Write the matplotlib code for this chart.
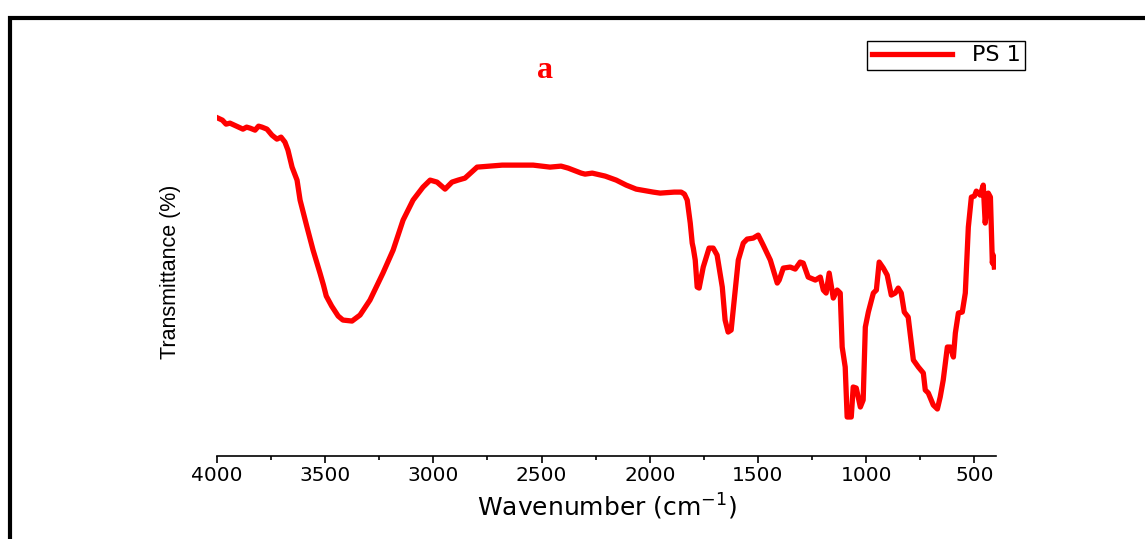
import matplotlib.pyplot as plt
from matplotlib.patches import Rectangle
from matplotlib.ticker import MultipleLocator

# FTIR spectrum of PS 1
wavenumber = [3995, 3975, 3958, 3940, 3910, 3880, 3863, 3847, 3824, 3808,
              3792, 3769, 3746, 3723, 3704,
              3686, 3672, 3653, 3630, 3616, 3584, 3556, 3524, 3508, 3495,
              3470, 3440, 3418, 3376, 3339, 3293, 3233, 3186, 3140, 3094, 3048,
              3015, 2983, 2946, 2914, 2886, 2854, 2798, 2743, 2682, 2585,
              2539, 2461, 2410, 2377, 2317, 2299, 2266, 2206, 2155, 2109,
              2063, 1984, 1952, 1887, 1855, 1840, 1827, 1813, 1804, 1799,
              1790, 1781, 1772, 1753, 1726, 1707, 1689, 1665, 1652, 1638,
              1624, 1610, 1591, 1568, 1550, 1522, 1499, 1476, 1443, 1411,
              1402, 1383, 1351, 1328, 1305, 1291, 1268, 1235, 1212, 1198,
              1185, 1171, 1152, 1134, 1120, 1111, 1097, 1088, 1069, 1060,
              1046, 1027, 1014, 1004, 990, 967, 953, 940, 921, 903,
              884, 866, 852, 838, 824, 806, 782, 759, 736, 727,
              713, 690, 671, 658, 644, 625, 611, 597, 588, 574,
              556, 542, 528, 514, 500, 491, 473, 459, 450, 436,
              426, 417, 413, 408]
transmittance = [84.5, 84.0, 83.0, 83.25, 82.5, 81.75, 82.25, 82.0, 81.5, 82.5,
                 82.25, 81.75, 80.25, 79.25, 79.75,
                 78.5, 76.5, 72.25, 69.0, 64.0, 57.25, 51.5, 45.75, 42.75, 40.0,
                 37.5, 35.0, 34.0, 33.75, 35.25, 39.0, 45.75, 51.5, 59.0, 64.0, 67.25,
                 69.0, 68.5, 66.75, 68.5, 69.0, 69.5, 72.25, 72.5, 72.75, 72.75,
                 72.75, 72.25, 72.5, 72.0, 70.75, 70.5, 70.75, 70.0, 69.0, 67.75,
                 66.75, 66.0, 65.75, 66.0, 66.0, 65.5, 64.0, 58.25, 53.25, 52.0,
                 49.0, 42.25, 42.0, 47.25, 52.0, 52.0, 50.25, 42.25, 34.0, 31.0,
                 31.5, 39.0, 49.0, 53.25, 54.25, 54.5, 55.25, 52.75, 49.0, 43.25,
                 44.0, 47.0, 47.25, 46.75, 48.5, 48.25, 44.75, 44.0, 44.75, 41.5,
                 40.75, 45.75, 39.5, 41.5, 40.75, 27.25, 22.25, 9.75, 9.75, 17.25,
                 17.0, 12.25, 14.0, 32.25, 36.0, 40.75, 41.5, 48.5, 47.0, 45.25,
                 40.25, 40.75, 42.0, 40.75, 36.0, 34.75, 24.0, 22.25, 20.75, 16.5,
                 15.75, 12.75, 11.75, 14.75, 19.0, 27.25, 27.25, 24.75, 30.75, 35.75,
                 36.0, 40.75, 57.25, 64.75, 65.0, 66.25, 65.25, 67.75, 58.25, 65.75,
                 64.75, 48.25, 50.25, 47.25]

fig = plt.figure(figsize=(11.45, 5.39), dpi=100)
ax = fig.add_axes([0.1895, 0.154, 0.6804, 0.79])

ax.plot(wavenumber, transmittance, color='#ff0000', linewidth=3.8,
        solid_joinstyle='round', label='PS 1')

ax.set_xlim(4000, 400)
ax.set_ylim(0, 106.5)

for side in ['top', 'right', 'left']:
    ax.spines[side].set_visible(False)
ax.spines['bottom'].set_linewidth(1.2)
ax.set_yticks([])

ax.xaxis.set_major_locator(MultipleLocator(500))
ax.xaxis.set_minor_locator(MultipleLocator(250))
ax.tick_params(axis='x', which='major', direction='out', length=5, width=1.2,
               pad=2, labelsize=14.5)
ax.tick_params(axis='x', which='minor', direction='out', length=3, width=1.2)
for lbl in ax.get_xticklabels():
    lbl.set_fontfamily('DejaVu Sans')

ax.set_xlabel('Wavenumber (cm$^{-1}$)', fontsize=18, family='DejaVu Sans')
ax.xaxis.set_label_coords(0.5, -0.083)

fig.text(170 / 1145, 1 - 272 / 539, 'Transmittance (%)', rotation=90,
         ha='center', va='center', fontsize=15.5, family='Liberation Sans')

fig.text(545 / 1145, 1 - 70 / 539, 'a', color='#ff0000', fontsize=23,
         fontweight='bold', family='Liberation Serif', ha='center', va='center')

leg = ax.legend(loc='upper right', bbox_to_anchor=(1025 / 1145, 1 - 41 / 539),
                bbox_transform=fig.transFigure, borderaxespad=0, fancybox=False,
                framealpha=1, edgecolor='black', handlelength=3.6,
                borderpad=0.2, handletextpad=0.9,
                prop={'family': 'DejaVu Sans', 'size': 16})
leg.get_frame().set_linewidth(1.0)

# black frame around the figure (only top and left visible in the reference)
fig.add_artist(Rectangle((10 / 1145, -0.1), 1.5, 1.1 - 18 / 539, fill=False,
                         edgecolor='black', linewidth=3, transform=fig.transFigure,
                         clip_on=False))

fig.savefig('out.png', dpi=100)
